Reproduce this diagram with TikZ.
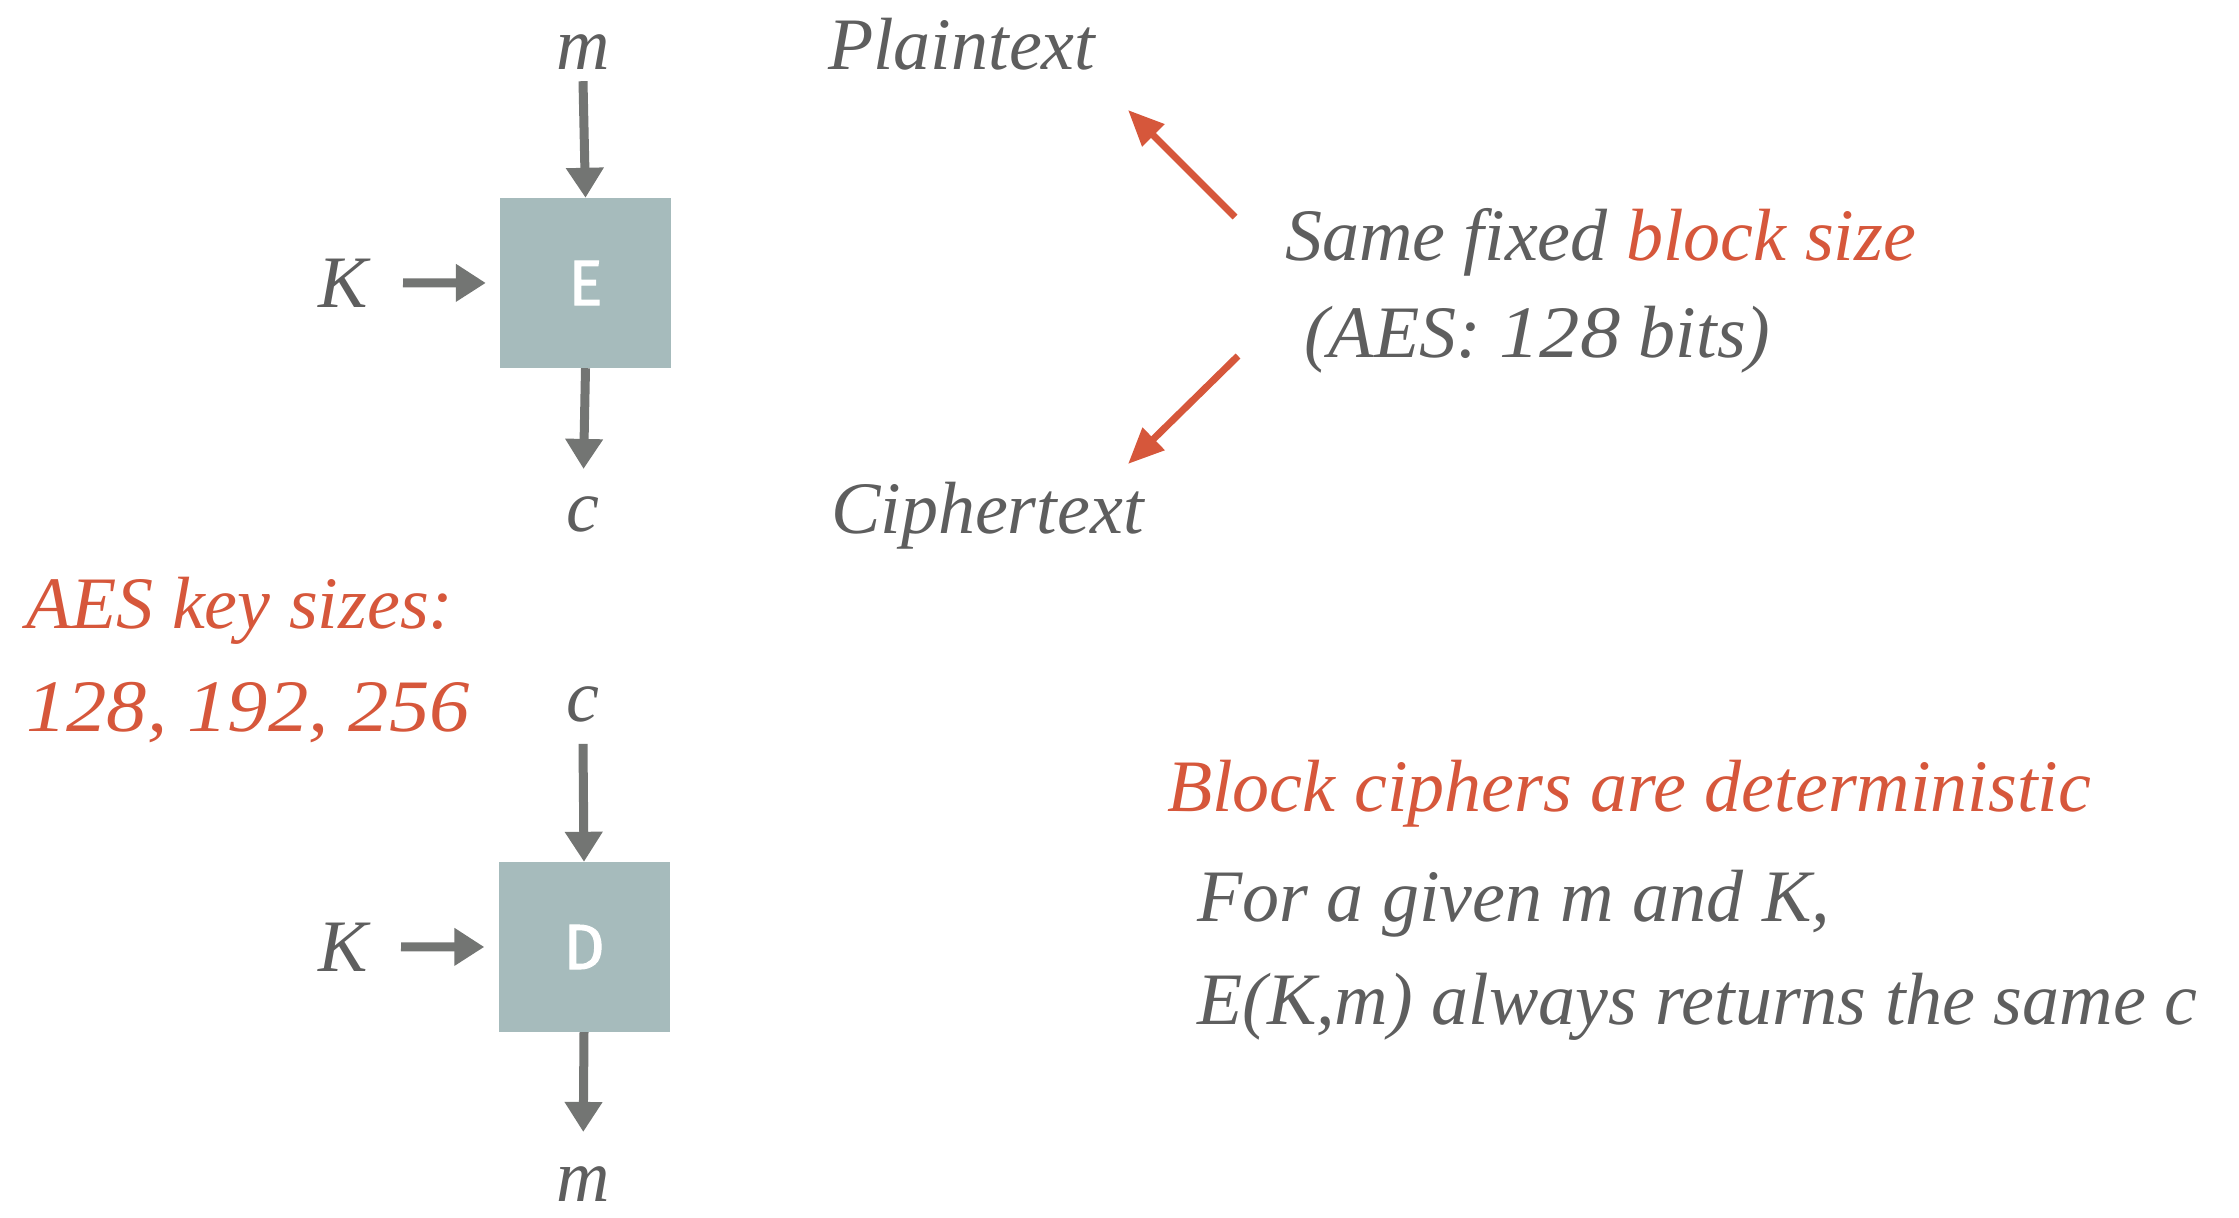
\documentclass[tikz,border=0pt]{standalone}
\usepackage{fontspec}
\setmainfont{Liberation Serif}
\newfontfamily\numfont[FakeStretch=1.09]{Liberation Serif}
\newfontfamily\boxfont[FakeBold=1.6]{Fira Sans}
\usetikzlibrary{arrows.meta}
\definecolor{ink}{HTML}{5E5E5E}
\definecolor{accent}{HTML}{D6573B}
\definecolor{arrowgray}{HTML}{737573}
\definecolor{boxfill}{HTML}{A6BBBC}
\newcommand{\digits}[1]{{\numfont\itshape #1}}

\begin{document}
\begin{tikzpicture}[x=1pt,y=-1pt,
  lbl/.style={inner sep=0pt, text=ink, font=\fontsize{74}{88}\selectfont\itshape},
  hl/.style={lbl, text=accent},
  cipherbox/.style={fill=boxfill, minimum width=171pt, minimum height=170pt,
    inner sep=0pt, text=white, font=\boxfont\fontsize{64}{70}\selectfont},
  flow/.style={draw=arrowgray, line width=9pt, -{Triangle[length=30pt,width=36pt]}},
  pointer/.style={draw=accent, line width=7pt, -{Triangle[length=36pt,width=30pt]}}]
\useasboundingbox (0,0) rectangle (2239,1218);

% encryption block
\node[cipherbox] (E) at (585.5,283) {E};
\node[lbl, anchor=base] (m1) at (583,69) {m};
\node[lbl, anchor=base east] (k1) at (368,307) {K};
\node[lbl, anchor=base] (c1) at (583,531) {c};
\draw[flow] ([yshift=-12pt]m1.south) -- (E.north);
\draw[flow, shorten >=14pt] ([xshift=35pt]k1.east) -- (E.west);
\draw[flow, shorten >=27pt] (E.south) -- (c1.north);

% decryption block
\node[cipherbox] (D) at (584,947) {D};
\node[lbl, anchor=base] (c2) at (583,721) {c};
\node[lbl, anchor=base east] (k2) at (368,971) {K};
\node[lbl, anchor=base] (m2) at (583,1201) {m};
\draw[flow] ([yshift=-22pt]c2.south) -- (D.north);
\draw[flow, shorten >=14pt] ([xshift=33pt]k2.east) -- (D.west);
\draw[flow, shorten >=34pt] (D.south) -- (m2.north);

% block size note
\node[lbl, anchor=base west] (plain) at (828,69) {Plaintext};
\node[lbl, anchor=base west] (ciph) at (831,533) {Ciphertext};
\node[lbl, anchor=base west] (same) at (1285,260) {Same fixed \textcolor{accent}{block size}};
\node[lbl, anchor=base west] (aes) at (1304,357) {(AES: \digits{128} bits)};
\coordinate (up0) at (1235,217);
\coordinate (up1) at (1128,110);
\coordinate (dn0) at (1238,356);
\coordinate (dn1) at (1128,464);
\draw[pointer] (up0) -- (up1);
\draw[pointer] (dn0) -- (dn1);

% key sizes
\node[hl, anchor=base west] (keys) at (26,628) {AES key sizes:};
\node[hl, anchor=base west] (keyvals) at (26,731) {\digits{128, 192, 256}};

% determinism note
\node[hl, anchor=base west] (det) at (1167,811) {Block ciphers are deterministic};
\node[lbl, anchor=base west] (given) at (1197,921) {For a given m and K,};
\node[lbl, anchor=base west] (always) at (1197,1024) {E(K,m) always returns the same c};
\end{tikzpicture}
\end{document}
